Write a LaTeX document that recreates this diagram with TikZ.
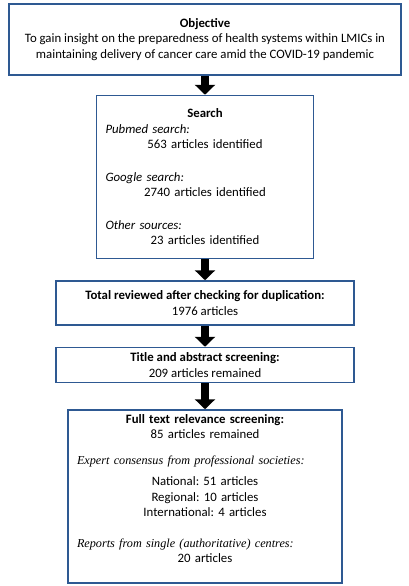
\documentclass[tikz,border=0pt]{standalone}
\usepackage{fontspec}
\setmainfont{Carlito}
\newfontfamily\cambria{Liberation Serif}
\usetikzlibrary{positioning,arrows.meta}
\definecolor{boxblue}{RGB}{46,89,146}
\setlength{\parindent}{0pt}
\frenchspacing

\begin{document}
\begin{tikzpicture}[node distance=20pt, >=latex, font=\fontsize{12.8}{15.5}\selectfont]
        \tikzstyle{box} = [rectangle, draw=boxblue, line width=1.5pt, align=center, inner sep=0pt]
        \tikzstyle{fat} = [line width=8pt, -{Triangle[width=20pt,length=10pt]}]
        \useasboundingbox (0,0) rectangle (408pt,-586pt);
        \node[box, minimum width=392pt, minimum height=71pt] (obj) at (205pt,-39.5pt)
            {\textbf{Objective}\\To gain insight on the preparedness of health systems within LMICs in\\maintaining delivery of cancer care amid the COVID-19 pandemic};
        \node[box, below=19pt of obj, minimum width=217pt, minimum height=163pt, text width=199pt, align=left] (search) {%
            {\centering\textbf{Search}\par}
            \textit{Pubmed search:}\par
            {\centering 563 articles identified\par}
            \vspace{17pt}
            \textit{Google search:}\par
            {\centering 2740 articles identified\par}
            \vspace{17pt}
            \textit{Other sources:}\par
            {\centering 23 articles identified\par}};
        \node[box, below=21pt of search, minimum width=298pt, minimum height=44pt] (total)
            {\textbf{Total reviewed after checking for duplication:}\\1976 articles};
        \node[box, below=21pt of total, minimum width=298pt, minimum height=35pt] (title)
            {\textbf{Title and abstract screening:}\\209 articles remained};
        \node[box, below=26pt of title, minimum width=274pt, minimum height=173pt, text width=256pt, align=left] (full) {%
            {\centering\textbf{Full text relevance screening:}\par}
            {\centering 85 articles remained\par}
            \vspace{10pt}
            {\cambria\itshape\fontsize{12.2}{15.5}\selectfont \mbox{Expert consensus from professional societies:}\par}
            \vspace{6pt}
            {\centering National: 51 articles\par}
            {\centering Regional: 10 articles\par}
            {\centering International: 4 articles\par}
            \vspace{15pt}
            {\cambria\itshape\fontsize{12.2}{15.5}\selectfont \mbox{Reports from single (authoritative) centres:}\par}
            {\centering 20 articles\par}
            \kern16pt};
        \draw[fat] (obj) -- (search);
        \draw[fat] (search) -- (total);
        \draw[fat] (total) -- (title);
        \draw[fat] (title) -- (full);
    \end{tikzpicture}
\end{document}
